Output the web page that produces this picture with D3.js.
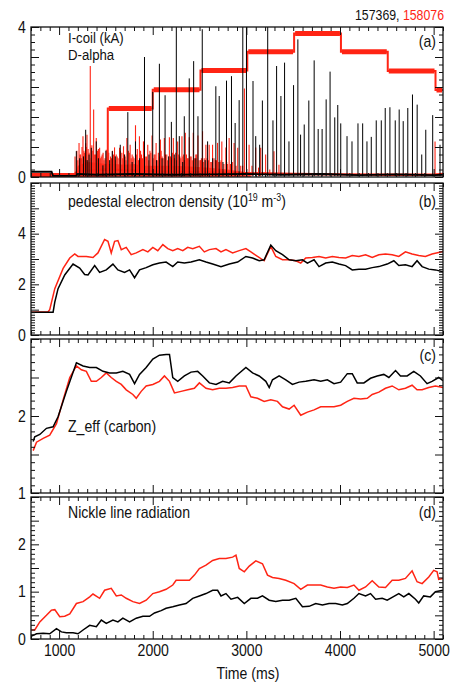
<!DOCTYPE html>
<html><head><meta charset="utf-8">
<script src="https://cdn.jsdelivr.net/npm/d3@7"></script>
<style>
body{margin:0;background:#fff}
text{font-family:"Liberation Sans",Arial,Helvetica,sans-serif;fill:#111}
</style>
</head><body>
<svg id="chart" width="459" height="684"></svg>
<script>
// ---------------- DATA ----------------
const timeDomain = [700, 5100];
const timeTickLabels = [1000, 2000, 3000, 4000, 5000];
const shotBlack = "157369";
const shotRed = "158076";

// panel (a) I-coil (red, step)
const icoilTimes  = [700, 1520, 2000, 2510, 3010, 3510, 4010, 4510, 5020, 5100];
const icoilLevels = [0.04, 1.83, 2.33, 2.84, 3.34, 3.83, 3.34, 2.83, 2.32, 2.32];

// panel (a) D-alpha black spikes
const dalphaBlackTimes = [1184,1284,1344,1397,1468,1568,1653,1734,1816,1912,2000,2071,2132,2199,2252,2284,2337,2390,2437,2483,2529,2586,2674,2710,2788,2841,2880,2923,2962,3001,3071,3100,3142,3171,3228,3284,3323,3369,3408,3455,3504,3550,3579,3618,3667,3724,3767,3809,3852,3894,3944,3976,4008,4075,4128,4192,4242,4288,4334,4387,4441,4483,4533,4590,4632,4675,4724,4774,4824,4873,4916,4990,5068,
  1220,1260,1300,1320,1420,1500,1540,1600,1700,1780,1860,1960,2040,2100,2170,2230,2320,2460,2560,2640,2750];
const dalphaBlackPeaks = [0.69,1.26,0.78,0.95,0.31,0.69,0.86,1.73,0.95,3.2,2.27,3.02,2.18,1.47,4.5,1.09,1.62,2.63,3.09,1.62,3.94,0.95,2.42,2.16,2.57,2.69,1.44,2.05,4.5,4.5,2.56,1.09,0.86,2.04,4.5,1.51,2.96,2.16,3.05,0.95,2.45,3.67,1.13,1.4,2.04,3.11,1.28,1.28,2.07,2.81,1.59,1.92,1.43,1.09,0.95,1.43,1.43,0.95,1.07,1.51,1.51,1.84,1.86,1.51,1.8,1.49,1.84,2.2,1.93,0.6,1.26,1.65,0.86,
  0.5,0.55,0.45,0.6,0.5,0.7,0.45,0.55,0.6,0.4,0.5,0.6,0.45,0.5,0.55,0.6,0.4,0.5,0.45,0.5,0.4];
const dalphaBlackBaseTimes  = [700, 920, 935, 1180, 1200, 1400, 1800, 2200, 2600, 3000, 3400, 3800, 4200, 4600, 5000, 5100];
const dalphaBlackBaseValues = [0.14, 0.14, 0.03, 0.03, 0.08, 0.06, 0.08, 0.06, 0.07, 0.08, 0.06, 0.08, 0.05, 0.07, 0.05, 0.06];

// panel (a) D-alpha red spikes
const dalphaRedTimes = [1213,1255,1298,1333,1369,1397,1433,1504,1592,1646,1688,1724,1759,1816,1858,1901,1947,1993,2036,2082,2124,2178,2220,2266,2312,2348,2390,2433,2483,2532,2568,2603,2639,2692,2738,2781,2816,2869,2908,2979,3029,3100,3153,3206,3295,3348,5015,
  1170,1190,1230,1245,1270,1285,1310,1350,1380,1410,1450,1470,1490,1520,1550,1570,1610,1630,1670,1705,1740,1780,1800,1835,1880,1920,1970,2015,2060,2100,2150,2200,2245,2290,2330,2370,2410,2460,2510,2550,2620,2670,2720,2800,2850,2940,3060,3130,3250,
  1200,1222,1238,1265,1278,1292,1320,1340,1360,1390,1420,1440,1460,1480,1512,1530,1560,1580,1600,1620,1655,1680,1695,1715,1750,1770,1790,1825,1848,1870,1890,1910,1935,1958,1980,2005,2025,2048,2070,2090,2112,2136,2160,2190,2210,2232,2255,2278,2300,2322,2340,2360,2380,2400,2422,2445,2470,2495,2520,2540,2580,2595,2630,2655,2680,2705,2730,2760,2790,2830,2890,2960];
const dalphaRedPeaks = [0.91,1.09,1.13,2.96,1.8,1.04,0.78,0.73,0.79,0.78,0.82,1.04,0.86,1.38,1.09,0.95,0.86,1.11,0.91,1.0,1.04,1.06,1.04,0.95,1.09,1.18,1.06,1.18,1.11,1.22,0.86,0.86,0.86,0.91,0.95,0.79,1.04,0.91,0.78,2.36,0.86,0.79,0.78,0.6,0.69,0.33,0.95,
  0.55,0.7,0.6,0.8,0.65,0.9,0.75,0.85,0.6,0.7,0.55,0.65,0.5,0.6,0.55,0.7,0.6,0.5,0.65,0.55,0.7,0.6,0.5,0.75,0.6,0.55,0.7,0.6,0.65,0.55,0.6,0.5,0.65,0.55,0.6,0.5,0.55,0.6,0.45,0.5,0.4,0.45,0.4,0.35,0.4,0.3,0.3,0.25,0.2,
  0.45,0.6,0.5,0.7,0.55,0.8,0.65,0.5,0.7,0.6,0.75,0.5,0.6,0.45,0.55,0.65,0.5,0.6,0.45,0.55,0.7,0.5,0.6,0.45,0.65,0.5,0.55,0.6,0.45,0.7,0.5,0.6,0.55,0.45,0.65,0.5,0.6,0.45,0.55,0.7,0.5,0.6,0.45,0.55,0.65,0.5,0.45,0.6,0.5,0.55,0.45,0.6,0.5,0.55,0.45,0.5,0.6,0.45,0.5,0.4,0.5,0.45,0.4,0.5,0.45,0.4,0.45,0.35,0.4,0.35,0.3,0.3];
const dalphaRedBaseTimes  = [700, 1150, 1200, 1500, 2000, 2500, 3000, 3500, 4000, 4500, 5000, 5100];
const dalphaRedBaseValues = [0.04, 0.04, 0.15, 0.2, 0.15, 0.12, 0.1, 0.08, 0.07, 0.06, 0.06, 0.08];
// dense lower envelope of the red D-alpha comb
const dalphaRedFillTimes  = [1160, 1200, 1300, 1400, 1500, 1600, 1700, 1800, 1900, 2000, 2200, 2400, 2600, 2800, 2950, 3050];
const dalphaRedFillValues = [0.05, 0.3, 0.4, 0.38, 0.35, 0.35, 0.33, 0.35, 0.3, 0.3, 0.3, 0.28, 0.25, 0.2, 0.15, 0.08];

// panel (b) pedestal electron density
const densityRedTimes = [700,883,900,954,1043,1114,1167,1202,1291,1362,1415,1486,1522,1557,1593,1628,1664,1717,1770,1824,1895,1948,2001,2054,2108,2161,2214,2267,2321,2374,2427,2498,2551,2605,2676,2729,2782,2853,2924,2995,3048,3119,3190,3261,3314,3386,3457,3528,3581,3634,3705,3776,3847,3918,3989,4060,4131,4202,4273,4344,4415,4486,4557,4628,4699,4770,4841,4912,4983,5100];
const densityRed = [0.9,0.92,1.0,1.83,2.63,3.04,3.2,3.1,3.1,3.06,3.24,3.77,3.7,3.24,3.7,3.73,3.37,3.46,3.17,3.24,3.37,3.28,3.46,3.33,3.57,3.41,3.33,3.41,3.33,3.46,3.41,3.5,3.28,3.37,3.41,3.28,3.37,3.24,3.33,3.41,3.28,3.1,2.93,3.5,3.1,2.97,2.97,2.93,2.84,3.04,3.06,3.1,3.04,3.1,3.06,3.04,3.14,3.1,3.17,3.06,3.17,3.2,3.17,3.1,3.28,3.2,3.14,3.1,3.2,3.3];
const densityBlackTimes = [700,936,954,989,1060,1149,1220,1273,1309,1380,1433,1504,1575,1628,1699,1753,1806,1859,1930,2001,2072,2143,2214,2267,2338,2409,2498,2569,2640,2729,2818,2907,2995,3066,3137,3190,3261,3314,3386,3457,3528,3599,3652,3723,3776,3847,3918,3989,4060,4131,4202,4273,4344,4415,4504,4575,4628,4699,4770,4823,4877,4948,5019,5100];
const densityBlack = [0.9,0.9,1.3,1.83,2.37,2.8,2.64,2.39,2.37,2.74,2.47,2.57,2.8,2.57,2.47,2.57,2.26,2.57,2.66,2.77,2.84,2.88,2.7,2.88,2.84,2.88,2.97,2.88,2.8,2.7,2.8,2.88,3.1,3.04,2.93,2.97,3.55,3.33,3.17,2.97,2.93,2.97,2.84,2.97,2.7,2.84,2.88,2.8,2.74,2.57,2.6,2.6,2.66,2.7,2.8,2.93,2.74,2.77,2.7,2.93,2.7,2.6,2.57,2.5];

// panel (c) Z_eff (carbon)
const zeffBlackTimes = [723,740,794,865,936,989,1078,1185,1256,1327,1398,1469,1540,1611,1681,1753,1806,1859,1930,2001,2072,2143,2179,2214,2267,2338,2409,2480,2534,2605,2676,2747,2818,2889,2995,3066,3137,3208,3244,3279,3350,3421,3492,3563,3634,3723,3794,3865,3936,4007,4078,4131,4184,4255,4326,4397,4468,4522,4593,4646,4717,4788,4859,4930,4983,5054,5100];
const zeffBlack = [1.67,1.73,1.76,1.84,1.86,1.99,2.32,2.69,2.65,2.63,2.63,2.58,2.56,2.56,2.58,2.54,2.42,2.54,2.63,2.74,2.79,2.8,2.8,2.5,2.45,2.52,2.57,2.58,2.52,2.43,2.41,2.45,2.43,2.52,2.63,2.56,2.52,2.45,2.37,2.47,2.52,2.47,2.41,2.44,2.45,2.47,2.45,2.47,2.42,2.44,2.55,2.55,2.43,2.43,2.49,2.52,2.54,2.5,2.59,2.52,2.52,2.58,2.52,2.42,2.45,2.5,2.46];
const zeffRedTimes = [723,759,830,900,972,1043,1114,1185,1238,1291,1344,1398,1451,1504,1557,1611,1664,1717,1788,1824,1877,1930,2001,2072,2125,2179,2232,2303,2374,2445,2498,2569,2640,2711,2782,2853,2924,2995,3048,3119,3190,3261,3332,3386,3457,3510,3581,3652,3723,3794,3865,3936,4007,4078,4149,4220,4291,4344,4415,4486,4557,4628,4699,4770,4823,4877,4948,5019,5100];
const zeffRed = [1.55,1.66,1.71,1.75,1.9,2.21,2.5,2.65,2.6,2.58,2.45,2.45,2.5,2.56,2.5,2.45,2.41,2.34,2.28,2.23,2.32,2.39,2.41,2.45,2.52,2.45,2.3,2.32,2.34,2.36,2.43,2.36,2.34,2.36,2.36,2.37,2.39,2.39,2.25,2.23,2.19,2.21,2.19,2.12,2.09,2.14,2.01,2.05,2.08,2.12,2.12,2.12,2.14,2.19,2.23,2.22,2.23,2.28,2.31,2.36,2.39,2.34,2.36,2.4,2.34,2.34,2.37,2.39,2.37];

// panel (d) Nickel line radiation
const nickelRedTimes = [705,740,794,865,918,954,1007,1060,1114,1185,1256,1327,1362,1433,1486,1557,1611,1664,1717,1788,1859,1930,2001,2072,2143,2214,2250,2321,2392,2445,2498,2569,2640,2711,2782,2853,2889,2924,2978,3031,3101,3172,3226,3279,3350,3421,3510,3581,3652,3723,3794,3865,3936,4007,4078,4149,4202,4273,4344,4415,4486,4557,4628,4699,4770,4823,4877,4948,5001,5037,5054,5100];
const nickelRed = [0.19,0.19,0.36,0.5,0.61,0.62,0.47,0.48,0.53,0.75,0.79,0.89,0.95,0.86,1.03,1.07,0.91,0.93,0.86,0.79,0.75,0.82,0.96,1.0,1.05,1.14,1.24,1.24,1.24,1.35,1.49,1.56,1.66,1.7,1.7,1.73,1.77,1.49,1.42,1.54,1.65,1.59,1.35,1.3,1.28,1.24,1.17,1.05,1.14,1.14,1.14,1.1,1.07,1.1,1.09,1.14,1.03,1.1,1.23,1.1,1.09,1.24,1.24,1.28,1.44,1.21,1.17,1.31,1.45,1.42,1.26,1.28];
const nickelBlackTimes = [705,759,830,900,972,1025,1078,1149,1202,1256,1327,1398,1451,1504,1575,1628,1681,1753,1824,1895,1966,2019,2090,2143,2214,2285,2356,2427,2498,2569,2640,2693,2729,2782,2836,2907,2978,3048,3119,3172,3244,3314,3386,3457,3528,3599,3670,3741,3812,3883,3954,4025,4078,4149,4202,4273,4326,4380,4451,4504,4557,4628,4681,4735,4806,4841,4894,4965,5019,5100];
const nickelBlack = [0.06,0.11,0.12,0.11,0.22,0.15,0.13,0.13,0.11,0.19,0.29,0.26,0.4,0.33,0.4,0.36,0.44,0.36,0.44,0.48,0.48,0.55,0.6,0.65,0.68,0.72,0.75,0.86,0.91,0.96,1.03,1.03,0.91,0.96,0.84,0.88,0.75,0.86,0.86,0.91,0.82,0.79,0.82,0.82,0.86,0.68,0.69,0.75,0.72,0.75,0.75,0.72,0.75,0.86,0.96,0.91,0.96,0.84,0.86,0.82,0.88,0.96,0.89,0.96,0.84,0.76,0.91,0.89,1.0,1.03];

// tick labels per panel
const aTickLabels = [0, 4];
const bTickLabels = [0, 2, 4];
const cTickLabels = [1, 2];
const dTickLabels = [0, 1, 2];

// ---------------- DRAW ----------------
const RED = "#ff2414", BLACK = "#000";
const SX = 0.88; // horizontal text compression of the original figure
const L = 31, R = 443;
const svg = d3.select("#chart");
const x = d3.scaleLinear().domain(timeDomain).range([L, R]);
const zip = (t, v) => t.map((d, i) => [d, v[i]]);

const panels = [
  {top: 27,  bottom: 177, domain: [0, 4], major: 0.8, minor: 0.2, labels: aTickLabels, tag: "(a)", tagY: 47},
  {top: 183, bottom: 335, domain: [0, 6], major: 1,   minor: 0.1, labels: bTickLabels, tag: "(b)", tagY: 207},
  {top: 339, bottom: 493, domain: [1, 3], major: 0.5, minor: 0.1, labels: cTickLabels, tag: "(c)", tagY: 361},
  {top: 497, bottom: 639, domain: [0, 3], major: 0.5, minor: 0.1, labels: dTickLabels, tag: "(d)", tagY: 518}
];

function txt(g, s, px, py, anchor, size, color) {
  return g.append("text").attr("transform", `translate(${px},${py}) scale(${SX},1)`)
    .attr("text-anchor", anchor || "start").style("font-size", (size || 16) + "px")
    .style("fill", color || "#111").text(s);
}

const xMajor = d3.range(1000, 5001, 1000);
const xMinor = d3.range(700, 5101, 100).filter(v => v % 1000 !== 0);

panels.forEach((p, i) => {
  const y = d3.scaleLinear().domain(p.domain).range([p.bottom, p.top]);
  p.y = y;
  const g = svg.append("g");
  const clipId = "clip" + i;
  svg.append("clipPath").attr("id", clipId).append("rect")
    .attr("x", L).attr("y", p.top).attr("width", R - L).attr("height", p.bottom - p.top);
  p.plot = g.append("g").attr("clip-path", `url(#${clipId})`);

  const eps = 1e-6;
  const majors = d3.range(p.domain[0], p.domain[1] + eps, p.major);
  const minors = d3.range(p.domain[0], p.domain[1] + eps, p.minor)
    .filter(v => !majors.some(m => Math.abs(m - v) < eps));
  const fmt = d => p.labels.some(l => Math.abs(l - d) < eps) ? d3.format("d")(Math.round(d)) : "";

  const axes = g.append("g").attr("class", "axes");
  axes.append("g").attr("transform", `translate(${L},0)`)
    .call(d3.axisLeft(y).tickValues(minors).tickSizeInner(-4).tickSizeOuter(0).tickFormat(""));
  axes.append("g").attr("transform", `translate(${L},0)`)
    .call(d3.axisLeft(y).tickValues(majors).tickSizeInner(-8).tickSizeOuter(0).tickPadding(6).tickFormat(fmt));
  axes.append("g").attr("transform", `translate(${R},0)`)
    .call(d3.axisRight(y).tickValues(minors).tickSizeInner(-4).tickSizeOuter(0).tickFormat(""));
  axes.append("g").attr("transform", `translate(${R},0)`)
    .call(d3.axisRight(y).tickValues(majors).tickSizeInner(-8).tickSizeOuter(0).tickFormat(""));
  axes.append("g").attr("transform", `translate(0,${p.top})`)
    .call(d3.axisTop(x).tickValues(xMinor).tickSizeInner(-4).tickSizeOuter(0).tickFormat(""));
  axes.append("g").attr("transform", `translate(0,${p.top})`)
    .call(d3.axisTop(x).tickValues(xMajor).tickSizeInner(-8).tickSizeOuter(0).tickFormat(""));
  axes.append("g").attr("transform", `translate(0,${p.bottom})`)
    .call(d3.axisBottom(x).tickValues(xMinor).tickSizeInner(-4).tickSizeOuter(0).tickFormat(""));
  axes.append("g").attr("transform", `translate(0,${p.bottom})`)
    .call(d3.axisBottom(x).tickValues(timeTickLabels).tickSizeInner(-8).tickSizeOuter(0).tickPadding(6)
      .tickFormat(i === 3 ? d3.format("d") : ""));
  axes.selectAll(".domain").remove();
  axes.selectAll("line").attr("stroke", "#111").attr("stroke-width", 1);
  axes.selectAll("text").style("font-size", "16px").style("fill", "#111")
    .attr("font-family", null)
    .attr("transform", `scale(${SX},1)`);
  g.append("rect").attr("x", L).attr("y", p.top).attr("width", R - L).attr("height", p.bottom - p.top)
    .attr("fill", "none").attr("stroke", "#111").attr("stroke-width", 1.3);
  txt(g, p.tag, 436, p.tagY, "end", 16);
});

const lineGen = (y) => d3.line().x(d => x(d[0])).y(d => y(d[1]));

// ---- panel (a)
{
  const p = panels[0], y = p.y, pl = p.plot;
  // red D-alpha
  pl.append("path").datum(zip(dalphaRedFillTimes, dalphaRedFillValues))
    .attr("d", d3.area().x(d => x(d[0])).y0(y(0)).y1(d => y(d[1])))
    .attr("fill", RED).attr("fill-opacity", 0.75);
  pl.append("path").datum(zip(dalphaRedBaseTimes, dalphaRedBaseValues))
    .attr("d", lineGen(y)).attr("fill", "none").attr("stroke", RED).attr("stroke-width", 2.5);
  pl.selectAll(".rs").data(zip(dalphaRedTimes, dalphaRedPeaks)).join("line")
    .attr("x1", d => x(d[0])).attr("x2", d => x(d[0]))
    .attr("y1", y(0.02)).attr("y2", d => y(d[1]))
    .attr("stroke", RED).attr("stroke-width", 1.1);
  // I-coil: thin step path + thick flat-top bands
  const ic = zip(icoilTimes, icoilLevels);
  pl.append("path").datum(ic)
    .attr("d", lineGen(y).curve(d3.curveStepAfter))
    .attr("fill", "none").attr("stroke", RED).attr("stroke-width", 2);
  pl.selectAll(".icb").data(ic.slice(0, -1)).join("line")
    .attr("x1", (d, k) => x(d[0]) + 1).attr("x2", (d, k) => x(icoilTimes[k + 1]) - 1)
    .attr("y1", d => y(d[1])).attr("y2", d => y(d[1]))
    .attr("stroke", RED).attr("stroke-width", 5);
  // black D-alpha
  pl.append("path").datum(zip(dalphaBlackBaseTimes, dalphaBlackBaseValues))
    .attr("d", lineGen(y)).attr("fill", "none").attr("stroke", BLACK).attr("stroke-width", 1.8);
  pl.selectAll(".bs").data(zip(dalphaBlackTimes, dalphaBlackPeaks)).join("line")
    .attr("x1", d => x(d[0])).attr("x2", d => x(d[0]))
    .attr("y1", y(0.02)).attr("y2", d => y(d[1]))
    .attr("stroke", BLACK).attr("stroke-width", 1);
  const g = svg.append("g");
  txt(g, "I-coil (kA)", 68, 42.5, "start", 15);
  txt(g, "D-alpha", 68, 59.5, "start", 15);
}

// ---- panels (b) (c) (d)
const series = [
  [panels[1], densityBlackTimes, densityBlack, densityRedTimes, densityRed],
  [panels[2], zeffBlackTimes, zeffBlack, zeffRedTimes, zeffRed],
  [panels[3], nickelBlackTimes, nickelBlack, nickelRedTimes, nickelRed]
];
series.forEach(([p, bt, bv, rt, rv]) => {
  p.plot.append("path").datum(zip(rt, rv)).attr("d", lineGen(p.y))
    .attr("fill", "none").attr("stroke", RED).attr("stroke-width", 1.5);
  p.plot.append("path").datum(zip(bt, bv)).attr("d", lineGen(p.y))
    .attr("fill", "none").attr("stroke", BLACK).attr("stroke-width", 1.5);
});

// labels
{
  const g = svg.append("g");
  const t = g.append("text").attr("transform", `translate(68,207) scale(${SX},1)`).style("font-size", "16px");
  t.append("tspan").text("pedestal electron density (10");
  t.append("tspan").attr("dy", -6).style("font-size", "10px").text("19");
  t.append("tspan").attr("dy", 6).text(" m");
  t.append("tspan").attr("dy", -6).style("font-size", "10px").text("-3");
  t.append("tspan").attr("dy", 6).text(")");
  txt(g, "Z_eff (carbon)", 68, 432, "start", 16);
  txt(g, "Nickle line radiation", 68, 518, "start", 16);
  txt(g, "Time (ms)", 248, 679, "middle", 16);
  const h = g.append("text").attr("transform", `translate(444,20) scale(${SX},1)`)
    .attr("text-anchor", "end").style("font-size", "14px");
  h.append("tspan").style("fill", "#111").text(shotBlack + ", ");
  h.append("tspan").style("fill", RED).text(shotRed);
}
</script>
</body></html>
